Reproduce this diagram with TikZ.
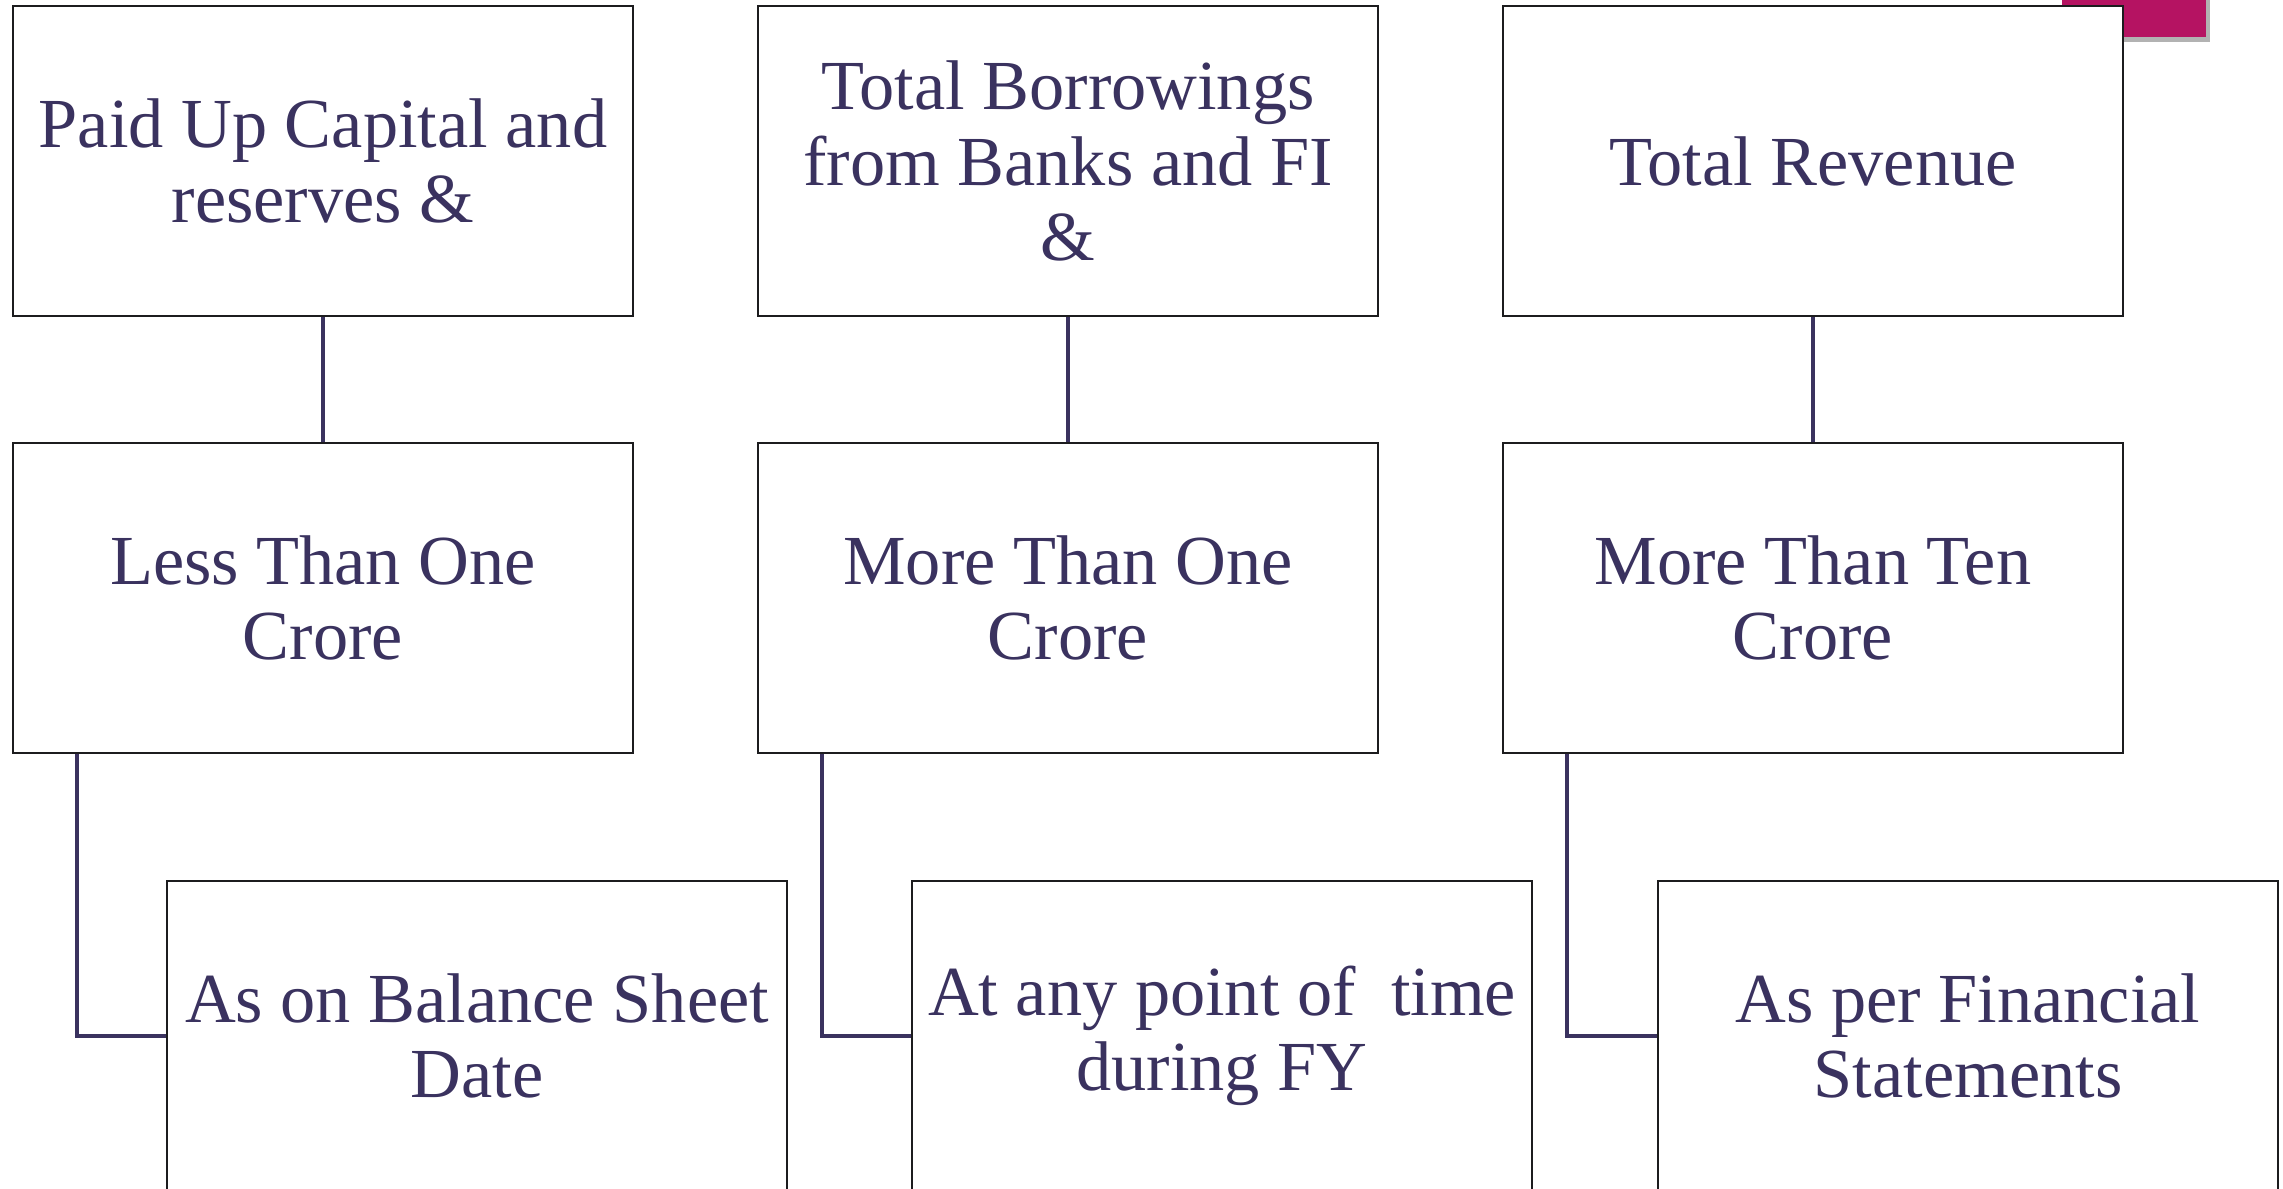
\documentclass[tikz,border=0pt]{standalone}
\usepackage{fontspec}
\setmainfont{Liberation Serif}
\usetikzlibrary{shadows,calc}
\definecolor{ink}{RGB}{58,50,95}
\definecolor{edge}{RGB}{28,28,30}
\definecolor{accent}{RGB}{181,19,98}
\tikzset{
  box/.style={draw=edge, line width=0.7pt, fill=white, rectangle,
    minimum width=6.20cm, minimum height=3.10cm, inner sep=2pt,
    align=center, text=ink,
    font=\fontsize{20pt}{21.5pt}\selectfont},
  link/.style={draw=ink, line width=1pt}
}
\begin{document}
\begin{tikzpicture}[x=0.01cm,y=-0.01cm]
\useasboundingbox (0,0) rectangle (2283,1188);
\clip (0,0) rectangle (2283,1188);
\fill[white] (0,0) rectangle (2283,1188);

% accent tab behind the right column
\fill[accent, drop shadow={shadow xshift=0.04cm, shadow yshift=-0.05cm, opacity=0.6}]
  (2062,-30) rectangle (2206,37);

% top row
\node[box] (t1) at (323,161) {Paid Up Capital and\\reserves \&};
\node[box] (t2) at (1068,161) {Total Borrowings\\from Banks and FI\\\&};
\node[box] (t3) at (1813,161) {Total Revenue};

% middle row
\node[box] (m1) at (323,598) {Less Than One\\Crore};
\node[box] (m2) at (1068,598) {More Than One\\Crore};
\node[box] (m3) at (1813,598) {More Than Ten\\Crore};

% bottom row
\node[box] (b1) at (477,1036) {As on Balance Sheet\\Date};
\node[box] (b2) at (1222,1036) {At any point of\ \ time\\during FY};
\node[box] (b3) at (1968,1036) {As per Financial\\Statements};

% vertical links
\draw[link] (t1.south) -- (m1.north);
\draw[link] (t2.south) -- (m2.north);
\draw[link] (t3.south) -- (m3.north);

% elbow links
\foreach \i in {1,2,3}{
  \coordinate (e\i) at ($(m\i.south west)!0.105!(m\i.south east)$);
  \draw[link] (e\i) |- (b\i.west);
}
\end{tikzpicture}
\end{document}
